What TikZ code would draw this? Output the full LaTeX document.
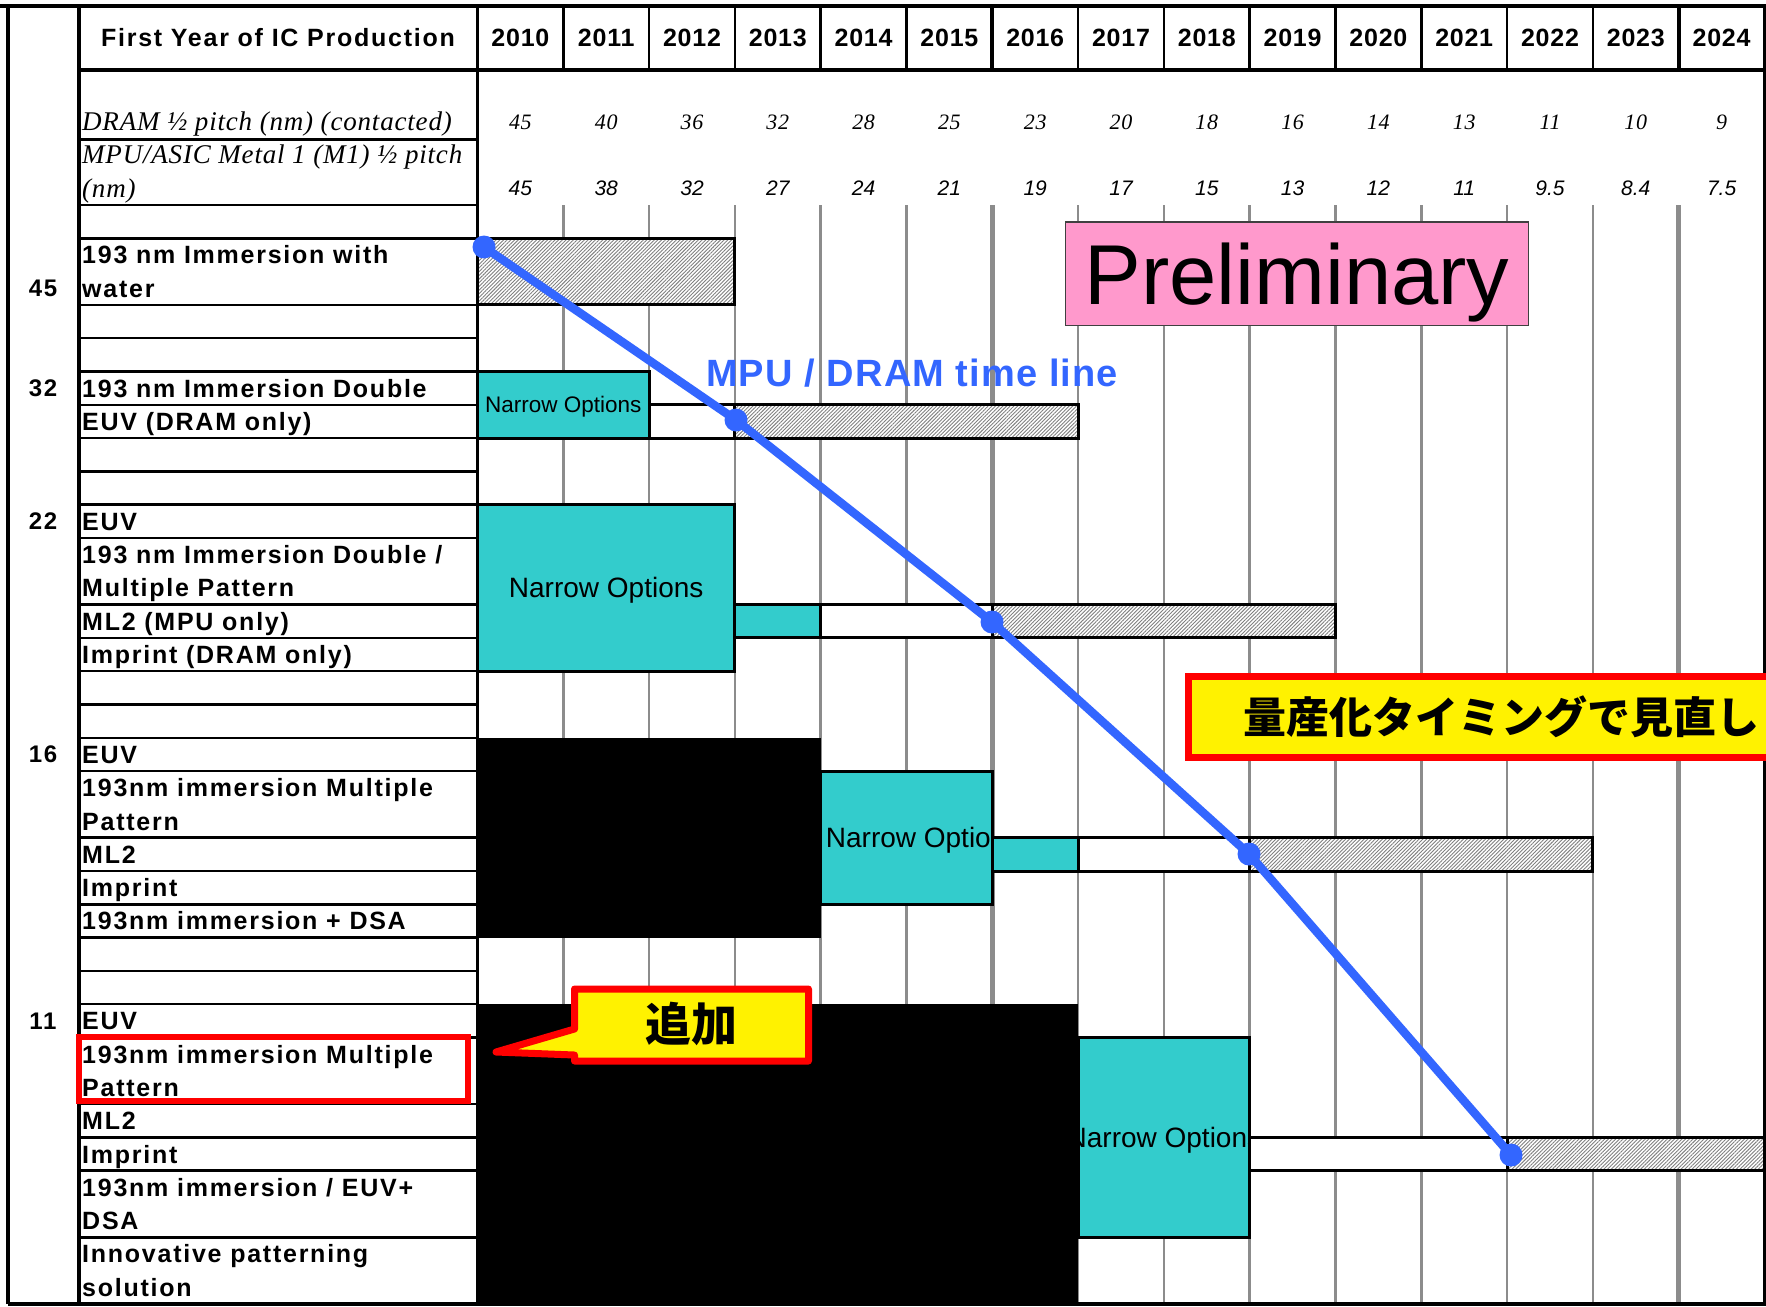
\documentclass[tikz,border=0pt]{standalone}
\usepackage{fontspec}
\setmainfont{Liberation Sans}
\newfontfamily\labf[LetterSpace=7]{Liberation Sans}
\newfontfamily\yrf[LetterSpace=3]{Liberation Sans}
\newfontfamily\tlf[LetterSpace=3]{Liberation Sans}
\newfontfamily\serf[LetterSpace=3]{Liberation Serif}
\newfontfamily\cjkf{Noto Sans CJK JP}
\usetikzlibrary{patterns.meta}
\definecolor{tealfill}{HTML}{33CCCC}
\definecolor{tlblue}{HTML}{3366FF}
\definecolor{pinkbox}{HTML}{FF99CC}
\definecolor{gridgray}{HTML}{8C8C8C}
\definecolor{hatchgray}{HTML}{808080}
\begin{document}
\begin{tikzpicture}[x=1pt,y=-1pt,
  declare function={X(\k)=477.5+85.8*\k; Y(\k)=205+33.3*\k;},
  gridln/.style={draw=gridgray, line width=2.5pt},
  gridthk/.style={draw=gridgray, line width=4.5pt},
  tblrule/.style={line width=2.5pt},
  heavy/.style={line width=3.8pt},
  hatchbar/.style={preaction={fill=white}, pattern={Lines[angle=45,distance=2.6pt,line width=0.9pt]}, pattern color=hatchgray, draw=black, line width=3pt},
  whitebar/.style={fill=white, draw=black, line width=3pt},
  tealbox/.style={fill=tealfill, draw=black, line width=3pt},
  lab/.style={anchor=west, inner sep=0pt, font=\labf\bfseries\fontsize{25}{30}\selectfont, text height=18pt, text depth=0pt},
  numlab/.style={anchor=center, inner sep=0pt, font=\labf\bfseries\fontsize{24}{28}\selectfont, text height=17pt, text depth=0pt},
  yrlab/.style={anchor=center, inner sep=0pt, font=\yrf\bfseries\fontsize{25}{30}\selectfont, text height=18pt, text depth=0pt},
  serlab/.style={anchor=west, inner sep=0pt, font=\serf\itshape\fontsize{27}{32}\selectfont, text height=18pt, text depth=0pt},
  dval/.style={anchor=center, inner sep=0pt, font=\serf\itshape\fontsize{22}{26}\selectfont, text height=15pt, text depth=0pt},
  mval/.style={anchor=center, inner sep=0pt, font=\itshape\fontsize{21}{25}\selectfont, text height=15pt, text depth=0pt},
  narrowtxt/.style={inner sep=0pt, font=\fontsize{28}{32}\selectfont, text height=20pt, text depth=0pt},
  tldot/.style={circle, fill=tlblue, inner sep=0pt, minimum size=23pt},
]
\useasboundingbox (0,0) rectangle (1766,1306);
\fill[white] (0,0) rectangle (1766,1306);

% ---------- grid lines ----------
\foreach \k in {1,2,3,4,5,7,8,9,10,11,12,13}
  \draw[gridln] ({X(\k)},{Y(0)}) -- ({X(\k)},{Y(33)});
\foreach \k in {6,14}
  \draw[gridthk] ({X(\k)},{Y(0)}) -- ({X(\k)},{Y(33)});

% ---------- 45 ----------
\draw[hatchbar] ({X(0)},{Y(1)}) rectangle ({X(3)},{Y(3)});

% ---------- 32 ----------
\draw[tealbox] ({X(0)},{Y(5)}) rectangle ({X(2)},{Y(7)});
\node[inner sep=0pt, font=\fontsize{22.5}{26}\selectfont, text height=16pt, text depth=0pt] (no32) at ({(X(0)+X(2))/2},{Y(6)}) {Narrow Options};
\draw[whitebar] ({X(2)},{Y(6)}) rectangle ({X(3)},{Y(7)});
\draw[hatchbar] ({X(3)},{Y(6)}) rectangle ({X(7)},{Y(7)});

% ---------- 22 ----------
\draw[tealbox] ({X(0)},{Y(9)}) rectangle ({X(3)},{Y(14)});
\node[narrowtxt] (no22) at ({(X(0)+X(3))/2},{(Y(9)+Y(14))/2}) {Narrow Options};
\draw[tealbox] ({X(3)},{Y(12)}) rectangle ({X(4)},{Y(13)});
\draw[whitebar] ({X(4)},{Y(12)}) rectangle ({X(6)},{Y(13)});
\draw[hatchbar] ({X(6)},{Y(12)}) rectangle ({X(10)},{Y(13)});

% ---------- 16 ----------
\fill[black] ({X(0)},{Y(16)}) rectangle ({X(4)},{Y(22)});
\fill[tealfill] ({X(4)},{Y(17)}) rectangle ({X(6)},{Y(21)});
\begin{scope}
  \clip ({X(4)},{Y(17)}) rectangle ({X(6)},{Y(21)});
  \node[narrowtxt, anchor=west] (no16) at ({X(4)+5},{(Y(17)+Y(21))/2}) {Narrow Options};
\end{scope}
\draw[line width=3pt] ({X(4)},{Y(17)}) rectangle ({X(6)},{Y(21)});
\draw[tealbox] ({X(6)},{Y(19)}) rectangle ({X(7)},{Y(20)});
\draw[whitebar] ({X(7)},{Y(19)}) rectangle ({X(9)},{Y(20)});
\draw[hatchbar] ({X(9)},{Y(19)}) rectangle ({X(13)},{Y(20)});

% ---------- 11 ----------
\fill[black] ({X(0)},{Y(24)}) rectangle ({X(7)},{Y(33)});
\fill[tealfill] ({X(7)},{Y(25)}) rectangle ({X(9)},{Y(31)});
\begin{scope}
  \clip ({X(7)},{Y(25)}) rectangle ({X(9)},{Y(31)});
  \node[narrowtxt] (no11) at ({(X(7)+X(9))/2},{(Y(25)+Y(31))/2}) {Narrow Options};
\end{scope}
\draw[line width=3pt] ({X(7)},{Y(25)}) rectangle ({X(9)},{Y(31)});
\draw[whitebar] ({X(9)},{Y(28)}) rectangle ({X(12)},{Y(29)});
\draw[hatchbar] ({X(12)},{Y(28)}) rectangle ({X(15)},{Y(29)});

% ---------- table rules ----------
\foreach \k in {0,1,3,4,5,6,7,8,9,10,12,13,14,15,16,17,19,20,21,22,23,24,25,27,28,29,31}
  \draw[tblrule] (79,{Y(\k)}) -- ({X(0)},{Y(\k)});
\draw[tblrule] (79,139.7) -- ({X(0)},139.7);
\foreach \k in {1,2,3,4,5,7,8,9,10,11,12,13}
  \draw[tblrule] ({X(\k)},6) -- ({X(\k)},70);
\foreach \k in {6,14}
  \draw[heavy] ({X(\k)},6) -- ({X(\k)},70);
\draw[heavy] (0,6) -- (1766,6);
\draw[heavy] (79,70) -- ({X(15)},70);
\draw[heavy] (8,6) -- (8,{Y(33)});
\draw[heavy] (79,6) -- (79,{Y(33)});
\draw[heavy] ({X(0)},6) -- ({X(0)},{Y(33)});
\draw[heavy] ({X(15)},6) -- ({X(15)},{Y(33)});
\draw[heavy] (8,{Y(33)}) -- (1766,{Y(33)});

% ---------- header texts ----------
\node[yrlab, font=\labf\bfseries\fontsize{25}{30}\selectfont] (hdr) at (278,38) {First Year of IC Production};
\foreach \yv [count=\i from 0] in {2010,2011,2012,2013,2014,2015,2016,2017,2018,2019,2020,2021,2022,2023,2024}
  \node[yrlab] (yr\i) at ({X(\i)+42.9},38) {\yv};
\node[serlab] (dram) at (82,121.6) {DRAM ½ pitch (nm) (contacted)};
\node[serlab] (mpua) at (82,154) {MPU/ASIC Metal 1 (M1) ½ pitch};
\node[serlab] (mpub) at (82,188) {(nm)};
\foreach \v [count=\i from 0] in {45,40,36,32,28,25,23,20,18,16,14,13,11,10,9}
  \node[dval] (dv\i) at ({X(\i)+42.9},121.6) {\v};
\foreach \v [count=\i from 0] in {45,38,32,27,24,21,19,17,15,13,12,11,9.5,8.4,7.5}
  \node[mval] (mv\i) at ({X(\i)+42.9},188) {\v};

% ---------- row labels ----------
\node[numlab] (n45) at (43,{Y(2)+16.65}) {45};
\node[numlab] (n32) at (43,{Y(5)+16.65}) {32};
\node[numlab] (n22) at (43,{Y(9)+16.65}) {22};
\node[numlab] (n16) at (43,{Y(16)+16.65}) {16};
\node[numlab] (n11) at (43,{Y(24)+16.65}) {11};

\node[lab] (a1) at (82,{Y(1)+16.65}) {193 nm Immersion with};
\node[lab] (a2) at (82,{Y(2)+16.65}) {water};
\node[lab] (b1) at (82,{Y(5)+16.65}) {193 nm Immersion Double};
\node[lab] (b2) at (82,{Y(6)+16.65}) {EUV (DRAM only)};
\node[lab] (c1) at (82,{Y(9)+16.65}) {EUV};
\node[lab] (c2) at (82,{Y(10)+16.65}) {193 nm Immersion Double /};
\node[lab] (c3) at (82,{Y(11)+16.65}) {Multiple Pattern};
\node[lab] (c4) at (82,{Y(12)+16.65}) {ML2 (MPU only)};
\node[lab] (c5) at (82,{Y(13)+16.65}) {Imprint (DRAM only)};
\node[lab] (d1l) at (82,{Y(16)+16.65}) {EUV};
\node[lab] (d2l) at (82,{Y(17)+16.65}) {193nm immersion Multiple};
\node[lab] (d3l) at (82,{Y(18)+16.65}) {Pattern};
\node[lab] (d4l) at (82,{Y(19)+16.65}) {ML2};
\node[lab] (d5l) at (82,{Y(20)+16.65}) {Imprint};
\node[lab] (d6l) at (82,{Y(21)+16.65}) {193nm immersion + DSA};
\node[lab] (e1) at (82,{Y(24)+16.65}) {EUV};
\node[lab] (e2) at (82,{Y(25)+16.65}) {193nm immersion Multiple};
\node[lab] (e3) at (82,{Y(26)+16.65}) {Pattern};
\node[lab] (e4) at (82,{Y(27)+16.65}) {ML2};
\node[lab] (e5) at (82,{Y(28)+16.65}) {Imprint};
\node[lab] (e6) at (82,{Y(29)+16.65}) {193nm immersion / EUV+};
\node[lab] (e7) at (82,{Y(30)+16.65}) {DSA};
\node[lab] (e8) at (82,{Y(31)+16.65}) {Innovative patterning};
\node[lab] (e9) at (82,{Y(32)+16.65}) {solution};

% ---------- Preliminary ----------
\draw[fill=pinkbox, draw=black!75, line width=1.5pt] (1065.5,222) rectangle (1528.5,325.5);
\node[inner sep=0pt, font=\fontsize{85}{90}\selectfont, text height=61pt, text depth=0pt] (prelim) at (1297,274) {Preliminary};

% ---------- callouts ----------
\draw[fill=yellow, draw=red, line width=7pt] (1188.5,676) rectangle (1790,757.5);
\node[anchor=west, inner sep=0pt, font=\cjkf\bfseries\fontsize{43}{48}\selectfont] (mitoshi) at (1243,717) {量産化タイミングで見直し};

\draw[fill=yellow, draw=red, line width=7pt, line join=round]
  (574.5,989) -- (808.5,989) -- (808.5,1061) -- (574.5,1061) -- (574.5,1055) -- (496,1052) -- (574.5,1029) -- cycle;
\node[inner sep=0pt, font=\cjkf\bfseries\fontsize{46}{50}\selectfont] (tsuika) at (691.5,1024) {追加};

\draw[red, line width=6pt] (78.5,1037) rectangle (468,1101);

% ---------- MPU / DRAM time line ----------
\node[tldot] (t1) at (484,247) {};
\node[tldot] (t2) at (736,420) {};
\node[tldot] (t3) at (992,622) {};
\node[tldot] (t4) at (1249,854) {};
\node[tldot] (t5) at (1511,1155) {};
\draw[tlblue, line width=8.5pt] (t1.center) -- (t2.center) -- (t3.center) -- (t4.center) -- (t5.center);
\node[anchor=west, inner sep=0pt, text=tlblue, font=\tlf\bfseries\fontsize{38}{42}\selectfont, text height=27pt, text depth=0pt] (tltext) at (706,373) {MPU / DRAM time line};
\end{tikzpicture}
\end{document}
